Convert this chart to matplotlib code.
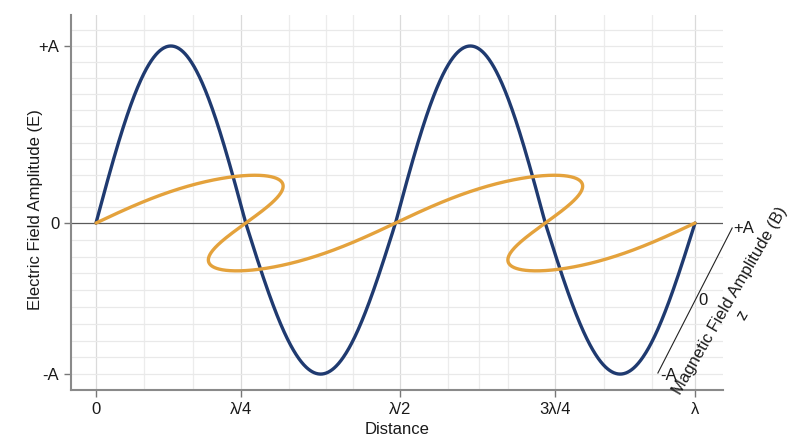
import numpy as np
import matplotlib.pyplot as plt

plt.rcParams['font.family'] = ['Liberation Sans', 'DejaVu Sans']

# distance is in wavelengths, field values in units of A
cycles = 2            # full E periods over one "λ" of the axis
e_peak = 1.0          # +A
e_trough = 0.853      # -A sits a bit closer to zero in the original
b_amp = 0.27          # B drawn on the oblique z axis (vertical part)
b_shift = 0.14        # horizontal part of the oblique axis per unit B
b_skew = 0.025        # the loops in the original are drawn a bit wider

xtick_pos = [0, 0.242, 0.508, 0.766, 1.0]
xtick_labels = ['0', 'λ/4', 'λ/2', '3λ/4', 'λ']
xminor_pos = [0.080, 0.162, 0.322, 0.384, 0.429, 0.588, 0.639, 0.688, 0.848, 0.928]
ytick_pos = [-0.853, 0, 1]
ytick_labels = ['-A', '0', '+A']

blue = '#1f3a70'
orange = '#e4a23c'
fs = 12

x = np.linspace(0, 1, 1500)
phase = 2 * np.pi * cycles * x
s = np.sin(phase)
E = np.where(s > 0, e_peak * s, e_trough * s)
bx = x + b_shift * s - b_skew * np.sin(2 * phase)
by = b_amp * s

fig = plt.figure(figsize=(8, 4.47), dpi=100)
ax = fig.add_axes([0.08875, 0.1275, 0.815, 0.8389])

# grid
for gx in xminor_pos:
    ax.axvline(gx, color='#ececec', lw=0.9, zorder=0)
for gx in xtick_pos:
    ax.axvline(gx, color='#dadada', lw=0.9, zorder=0)
y_up = np.arange(1, 13) / 11
y_dn = -np.arange(1, 11) * e_trough / 9
for gy in np.concatenate([y_up, y_dn]):
    ax.axhline(gy, color='#e9e9e9', lw=0.9, zorder=0)
ax.axhline(0, color='#5a5a5a', lw=0.9, zorder=1)

ax.plot(x, E, color=blue, lw=2.4, zorder=3, solid_capstyle='round')
ax.plot(bx, by, color=orange, lw=2.4, zorder=4, solid_capstyle='round')

ax.set_xlim(-0.0417, 1.0467)
ax.set_ylim(-0.943, 1.175)
ax.set_xticks(xtick_pos)
ax.set_xticklabels(xtick_labels)
ax.set_yticks(ytick_pos)
ax.set_yticklabels(ytick_labels)
ax.tick_params(axis='both', labelsize=fs, length=5, width=1, colors='#1a1a1a')
ax.tick_params(axis='both', color='#777777')
for side in ['top', 'right']:
    ax.spines[side].set_visible(False)
for side in ['left', 'bottom']:
    ax.spines[side].set_color('#8a8a8a')
    ax.spines[side].set_linewidth(1.5)

ax.set_xlabel('Distance', fontsize=fs, color='#1a1a1a', labelpad=4)
ax.set_ylabel('Electric Field Amplitude (E)', fontsize=fs, color='#1a1a1a')
ax.yaxis.set_label_coords(-0.043, 0.48)

# oblique z axis for B
ax.plot([0.938, 1.062], [-0.847, -0.028], color='#222222', lw=0.8, clip_on=False, zorder=5)
ax.text(1.082, -0.028, '+A', fontsize=fs, ha='center', va='center', color='#1a1a1a', clip_on=False)
ax.text(1.013, -0.435, '0', fontsize=fs, ha='center', va='center', color='#1a1a1a', clip_on=False)
ax.text(0.955, -0.859, '-A', fontsize=fs, ha='center', va='center', color='#1a1a1a', clip_on=False)
ax.text(1.059, -0.441, 'Magnetic Field Amplitude (B)', fontsize=fs, rotation=60,
        rotation_mode='anchor', ha='center', va='center', color='#1a1a1a', clip_on=False)
ax.text(1.080, -0.52, 'z', fontsize=fs, rotation=60, rotation_mode='anchor',
        ha='center', va='center', color='#1a1a1a', clip_on=False)

fig.savefig('out.png', dpi=100)
